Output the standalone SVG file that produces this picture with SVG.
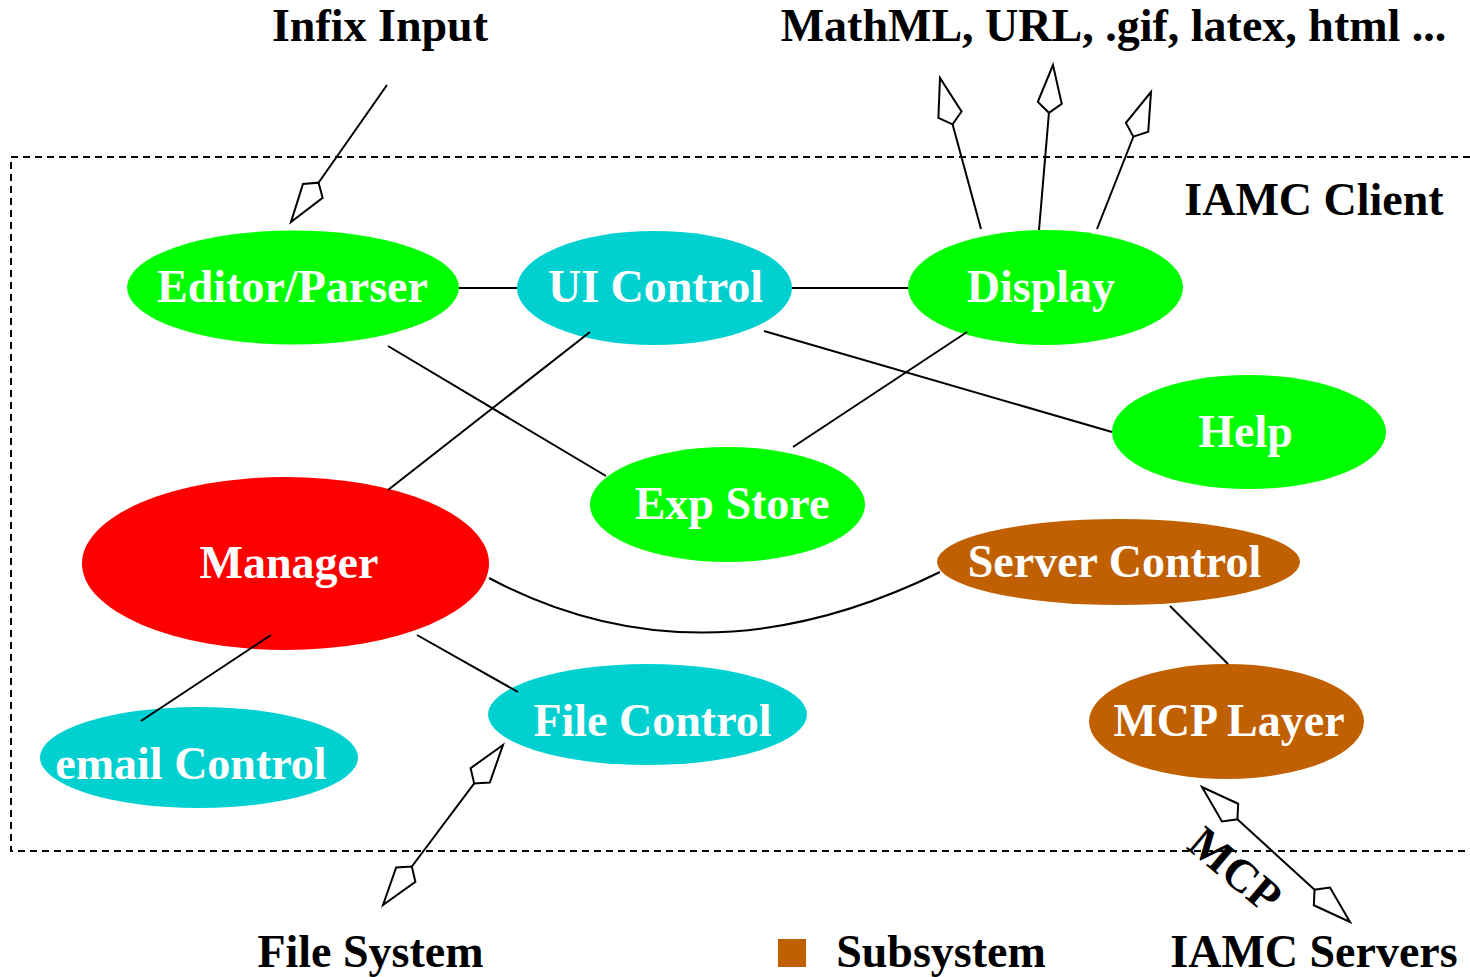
<svg xmlns="http://www.w3.org/2000/svg" width="1470" height="977" viewBox="0 0 1470 977">
<style>
.lbl{font-family:"Liberation Serif","Times New Roman",serif;font-weight:bold;font-size:46px;fill:#000;text-anchor:middle}
.ntx{font-family:"Liberation Serif","Times New Roman",serif;font-weight:bold;font-size:46px;fill:#fff;text-anchor:middle}
.ln{stroke:#000;stroke-width:2;fill:none}
.green{fill:#00ff00}
.cyan{fill:#00d0d0}
.red{fill:#ff0000}
.brown{fill:#c06000}
</style>
<defs>
<marker id="ah" markerUnits="userSpaceOnUse" viewBox="-52 -16 56 32" markerWidth="56" markerHeight="32" refX="0" refY="0" orient="auto-start-reverse" overflow="visible">
<path d="M0,0 L-38,-12 L-48,0 L-38,12 Z" fill="#fff" stroke="#000" stroke-width="2"/>
</marker>
</defs>
<rect width="1470" height="977" fill="#fff"/>
<path d="M1470,157 H11 V851 H1470" fill="none" stroke="#000" stroke-width="2" stroke-dasharray="7 5"/>
<g id="editor-parser"><ellipse class="green" cx="293" cy="287.5" rx="166" ry="57"/><text class="ntx" x="292.5" y="302">Editor/Parser</text></g>
<g id="ui-control"><ellipse class="cyan" cx="654.5" cy="288" rx="137.5" ry="57"/><text class="ntx" x="655.5" y="302">UI Control</text></g>
<g id="display"><ellipse class="green" cx="1045.5" cy="287.5" rx="137.5" ry="57.5"/><text class="ntx" x="1041" y="302">Display</text></g>
<g id="help"><ellipse class="green" cx="1249" cy="432" rx="137" ry="57"/><text class="ntx" x="1245.5" y="447">Help</text></g>
<g id="exp-store"><ellipse class="green" cx="727.5" cy="504.5" rx="137.5" ry="57.5"/><text class="ntx" x="732" y="519">Exp Store</text></g>
<g id="manager"><ellipse class="red" cx="285.5" cy="563.5" rx="203.5" ry="86.5"/><text class="ntx" x="289" y="578">Manager</text></g>
<g id="server-control"><ellipse class="brown" cx="1118.5" cy="562" rx="181.5" ry="43"/><text class="ntx" x="1114.5" y="577">Server Control</text></g>
<g id="mcp-layer"><ellipse class="brown" cx="1226.5" cy="721.5" rx="137.5" ry="57.5"/><text class="ntx" x="1229" y="736">MCP Layer</text></g>
<g id="file-control"><ellipse class="cyan" cx="647.5" cy="714.5" rx="159.5" ry="50.5"/><text class="ntx" x="652.5" y="736">File Control</text></g>
<g id="email-control"><ellipse class="cyan" cx="199" cy="757.5" rx="159" ry="50.5"/><text class="ntx" x="191" y="779">email Control</text></g>
<g id="connectors">
<path class="ln" d="M459,288 H517"/>
<path class="ln" d="M792,288 H908"/>
<path class="ln" d="M388,346 L606,476"/>
<path class="ln" d="M590,332 L388,490"/>
<path class="ln" d="M764,331 L1112,432"/>
<path class="ln" d="M967,332 L793,447"/>
<path class="ln" d="M489,578 Q700,690 940,572"/>
<path class="ln" d="M1170,606 L1228,664"/>
<path class="ln" d="M417,635 L518,692"/>
<path class="ln" d="M271,635 L141,721"/>
<path class="ln" d="M387,85 L291,222" marker-end="url(#ah)"/>
<path class="ln" d="M981,229 L940,78" marker-end="url(#ah)"/>
<path class="ln" d="M1039,230 L1053,65" marker-end="url(#ah)"/>
<path class="ln" d="M1097,229 L1151,92" marker-end="url(#ah)"/>
<path class="ln" d="M383,905 L503,745" marker-start="url(#ah)" marker-end="url(#ah)"/>
<path class="ln" d="M1202,787 L1350,922" marker-start="url(#ah)" marker-end="url(#ah)"/>
</g>
<g id="labels">
<text class="lbl" x="380" y="41">Infix Input</text>
<text class="lbl" x="1113.5" y="41">MathML, URL, .gif, latex, html ...</text>
<text class="lbl" x="1314" y="215">IAMC Client</text>
<text class="lbl" x="370.5" y="967">File System</text>
<text class="lbl" x="941" y="967">Subsystem</text>
<text class="lbl" x="1314" y="967">IAMC Servers</text>
<text class="lbl" transform="translate(1235,870) rotate(40)" x="0" y="15">MCP</text>
<rect x="778" y="939" width="28" height="28" fill="#c06000"/>
</g>
</svg>
